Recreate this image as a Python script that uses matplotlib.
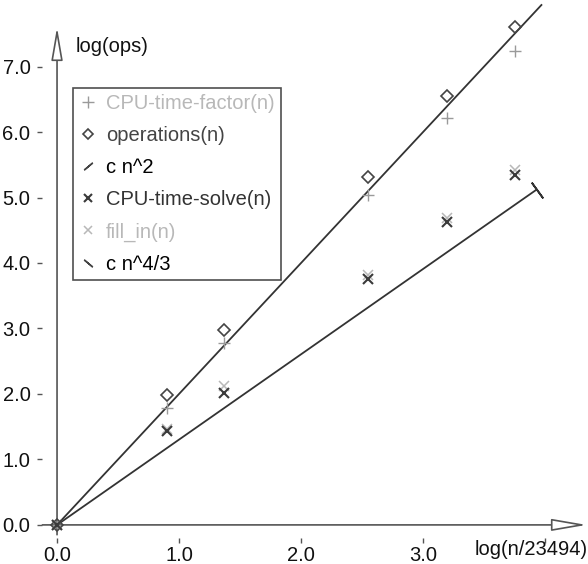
import matplotlib
matplotlib.use("Agg")
import matplotlib.pyplot as plt
from matplotlib.lines import Line2D
from matplotlib.patches import FancyArrowPatch

plt.rcParams['font.family'] = ['Liberation Sans', 'DejaVu Sans']

# log(n/23494) for each test matrix
log_n = [0.0, 0.90, 1.37, 2.55, 3.20, 3.75]

cpu_factor = [0.0, 1.78, 2.78, 5.04, 6.21, 7.24]
operations = [0.0, 1.98, 2.97, 5.31, 6.55, 7.60]
cpu_solve = [0.0, 1.43, 2.01, 3.76, 4.63, 5.35]
fill_in = [0.0, 1.47, 2.12, 3.81, 4.68, 5.42]

# reference lines (end points)
n2_x = [0.0, 3.97]
n2_y = [0.0, 7.94]
n43_x = [0.0, 3.93]
n43_y = [0.0, 5.12]

xticks = [0.0, 1.0, 2.0, 3.0, 4.0]
xticklabels = ["0.0", "1.0", "2.0", "3.0", ""]
yticks = [0, 1, 2, 3, 4, 5, 6, 7]
yticklabels = ["%.1f" % v for v in yticks]

axis_col = "#555555"
line_col = "#333333"
light = "#b8b8b8"
fs = 14.5

fig = plt.figure(figsize=(5.88, 5.64), dpi=100)
ax = fig.add_axes([0.0721, 0.0461, 0.9296, 0.952])
ax.set_xlim(-0.12, 4.36)
ax.set_ylim(-0.2, 8.0)

for s in ax.spines.values():
    s.set_visible(False)

# axes with open arrow heads
arrow = "-|>,head_length=2.2,head_width=0.38"
ax.add_patch(FancyArrowPatch((-0.12, 0), (4.34, 0), arrowstyle=arrow, mutation_scale=9.8,
                             shrinkA=0, shrinkB=0, fc="white", ec=axis_col, lw=1.2, clip_on=False))
ax.add_patch(FancyArrowPatch((0, -0.15), (0, 7.6), arrowstyle=arrow, mutation_scale=9.2,
                             shrinkA=0, shrinkB=0, fc="white", ec=axis_col, lw=1.2, clip_on=False))

ax.set_xticks(xticks)
ax.set_xticklabels(xticklabels)
ax.set_yticks(yticks)
ax.set_yticklabels(yticklabels)
ax.tick_params(axis="both", direction="out", length=3.6, width=1, color=axis_col,
               labelsize=fs, labelcolor="#111111")
ax.tick_params(axis="x", pad=2.5)
ax.tick_params(axis="y", pad=5)

ax.text(3.89, -0.23, "log(n/23494)", fontsize=fs, ha="center", va="top", color="#111111")
ax.text(0.15, 7.3, "log(ops)", fontsize=fs, ha="left", va="center", color="#111111")

# reference lines
ax.plot(n2_x, n2_y, color=line_col, lw=1.3)
ax.plot(n43_x, n43_y, color=line_col, lw=1.3)
ax.plot(n43_x[-1:], n43_y[-1:], ls="none", marker=(2, 2, 36), ms=14, mew=1.3, mec=line_col)

# measured series
ax.plot(log_n, cpu_factor, ls="none", marker="+", ms=9, mew=1.0, mec="#9a9a9a")
ax.plot(log_n, operations, ls="none", marker="D", ms=6.5, mew=1.2, mec="#444444", mfc="none")
ax.plot(log_n, fill_in, ls="none", marker="x", ms=7, mew=1.1, mec=light)
ax.plot(log_n, cpu_solve, ls="none", marker="x", ms=7, mew=1.5, mec="#3a3a3a")

handles = [
    Line2D([], [], ls="none", marker="+", ms=8, mew=1.0, mec="#9a9a9a"),
    Line2D([], [], ls="none", marker="D", ms=5, mew=1.2, mec="#444444", mfc="none"),
    Line2D([], [], ls="none", marker=(2, 2, -50), ms=8, mew=1.1, mec="#444444"),
    Line2D([], [], ls="none", marker="x", ms=6, mew=1.5, mec="#3a3a3a"),
    Line2D([], [], ls="none", marker="x", ms=6, mew=1.1, mec=light),
    Line2D([], [], ls="none", marker=(2, 2, 50), ms=8, mew=1.1, mec="#444444"),
]
labels = ["CPU-time-factor(n)", "operations(n)", "c n^2", "CPU-time-solve(n)", "fill_in(n)", "c n^4/3"]
text_cols = [light, "#444444", "#000000", "#333333", light, "#000000"]

leg = ax.legend(handles, labels, loc="upper left", bbox_to_anchor=(73 / 588, 1 - 88 / 564),
                bbox_transform=fig.transFigure, borderaxespad=0, fontsize=fs, frameon=True,
                fancybox=False, handlelength=0.9, handletextpad=0.45, labelspacing=0.65,
                borderpad=0.3)
leg.get_frame().set_edgecolor("#222222")
leg.get_frame().set_linewidth(1.2)
for t, c in zip(leg.get_texts(), text_cols):
    t.set_color(c)

fig.savefig("out.png", dpi=100)
